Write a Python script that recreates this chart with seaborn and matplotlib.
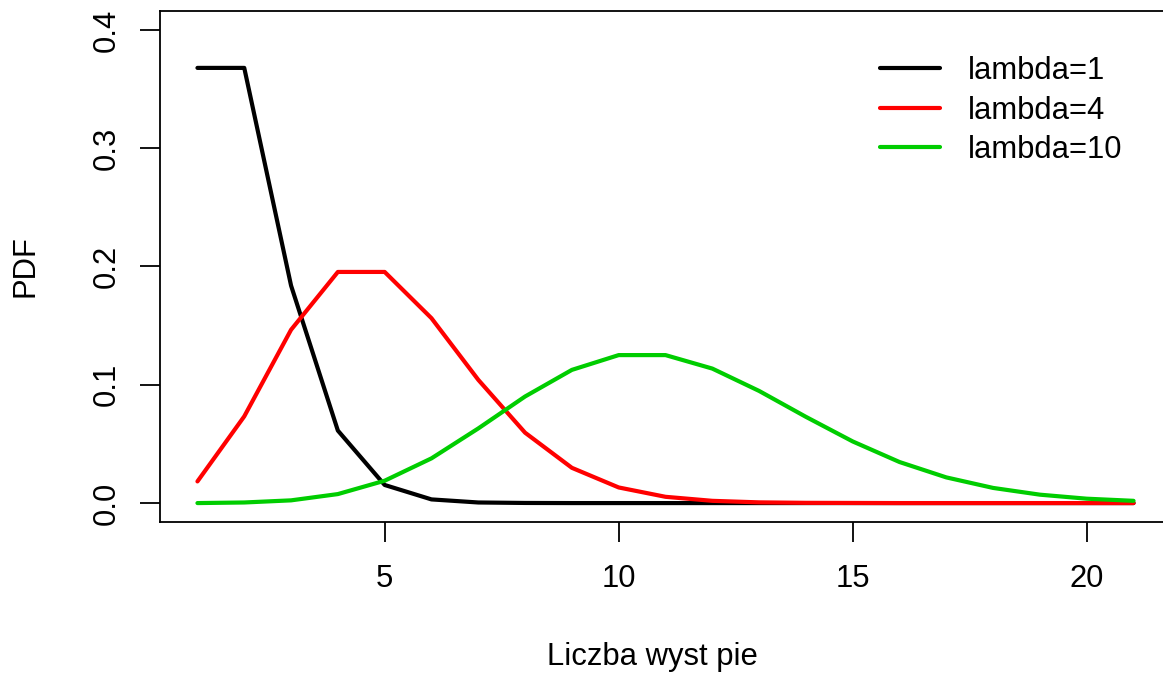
import numpy as np
import pandas as pd
import matplotlib
matplotlib.use("Agg")
import matplotlib.pyplot as plt
from matplotlib.lines import Line2D
import seaborn as sns

x = list(range(1, 22))
pdf_l1 = [0.3679, 0.3679, 0.1839, 0.0613, 0.0153, 0.0031, 0.0005, 0.0001, 0.0, 0.0,
          0.0, 0.0, 0.0, 0.0, 0.0, 0.0, 0.0, 0.0, 0.0, 0.0, 0.0]
pdf_l4 = [0.0183, 0.0733, 0.1465, 0.1954, 0.1954, 0.1563, 0.1042, 0.0595, 0.0298, 0.0132,
          0.0053, 0.0019, 0.0006, 0.0002, 0.0001, 0.0, 0.0, 0.0, 0.0, 0.0, 0.0]
pdf_l10 = [0.0000, 0.0005, 0.0023, 0.0076, 0.0189, 0.0378, 0.0631, 0.0901, 0.1126, 0.1251,
           0.1251, 0.1137, 0.0948, 0.0729, 0.0521, 0.0347, 0.0217, 0.0128, 0.0071, 0.0037, 0.0019]
labels = ["lambda=1", "lambda=4", "lambda=10"]
colors = ["#000000", "#FF0000", "#00CD00"]
xticks = [5, 10, 15, 20]
yticks = [0.0, 0.1, 0.2, 0.3, 0.4]

df = pd.DataFrame({
    "x": x * 3,
    "pdf": pdf_l1 + pdf_l4 + pdf_l10,
    "series": [labels[0]] * 21 + [labels[1]] * 21 + [labels[2]] * 21,
})

sns.set_style("white")
plt.rcParams["font.family"] = ["Liberation Sans", "DejaVu Sans"]
plt.rcParams["text.color"] = "black"
plt.rcParams["axes.labelcolor"] = "black"
plt.rcParams["xtick.color"] = "black"
plt.rcParams["ytick.color"] = "black"
fs = 22.3

W, H = 1163, 676
fig = plt.figure(figsize=(W / 100, H / 100), dpi=100)
left, right, top, bottom = 160, 1171, 11, 522
ax = fig.add_axes([left / W, 1 - bottom / H, (right - left) / W, (bottom - top) / H])

sns.lineplot(data=df, x="x", y="pdf", hue="series", hue_order=labels,
             palette=colors, linewidth=3, ax=ax, legend=False)

ax.set_xlim(0.2, 21.8)
ax.set_ylim(-0.016, 0.416)
ax.set_xticks(xticks)
ax.set_xticklabels([str(t) for t in xticks], fontsize=fs)
ax.set_yticks(yticks)
ax.set_yticklabels([f"{t:.1f}" for t in yticks], fontsize=fs, rotation=90, va="center")
ax.tick_params(axis="both", direction="out", length=14.4, width=1.3, color="black",
               bottom=True, left=True)
ax.tick_params(axis="x", pad=16)
ax.tick_params(axis="y", pad=13)
for s in ax.spines.values():
    s.set_color("black")
    s.set_linewidth(1.3)
    s.set_visible(True)

ax.set_xlabel("Liczba wyst pie", fontsize=fs)
ax.set_ylabel("PDF", fontsize=fs)
ax.xaxis.set_label_coords((652 - left) / (right - left), -(657 - bottom) / (bottom - top))
ax.yaxis.set_label_coords(-(left - 26) / (right - left), 0.5)
ax.xaxis.label.set_va("center")
ax.yaxis.label.set_va("center")

handles = [Line2D([0], [0], color=c, lw=3) for c in colors]
ax.legend(handles, labels, loc="upper left", frameon=False, fontsize=fs,
          bbox_to_anchor=(880 / W, 1 - 56 / H), bbox_transform=fig.transFigure,
          borderpad=0, borderaxespad=0, handlelength=1.94, handletextpad=0.9,
          labelspacing=0.31)

fig.savefig("out.png", dpi=100)
